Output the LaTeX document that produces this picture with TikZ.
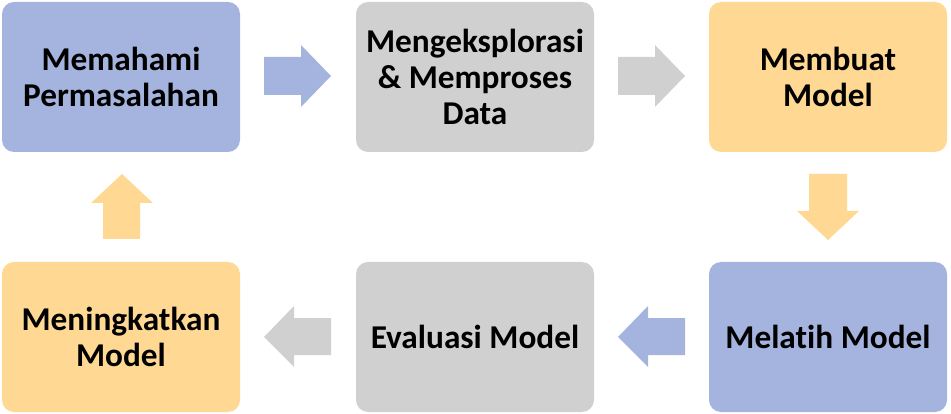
\documentclass[tikz,border=0pt]{standalone}
\usepackage{fontspec}
\setmainfont{Carlito}[Ligatures=NoCommon]
\definecolor{cblue}{HTML}{A4B4DF}
\definecolor{cgrey}{HTML}{D0D0D0}
\definecolor{cyel}{HTML}{FFD993}
\begin{document}
\begin{tikzpicture}[x=1pt,y=-1pt,
  stepbox/.style={rounded corners=12pt, minimum width=238pt, minimum height=150pt,
    inner sep=0pt, align=center, font=\fontsize{33.3}{36}\selectfont\bfseries, text=black},
  arrowfill/.style={fill=#1, draw=none}]
\useasboundingbox (0,0) rectangle (951,414);
\node[stepbox, fill=cblue] (b1) at (121,77) {Memahami\\Permasalahan};
\node[stepbox, fill=cgrey] (b2) at (475,77) {Mengeksplorasi\\\& Memproses\\Data};
\node[stepbox, fill=cyel] (b3) at (828,77) {Membuat\\Model};
\node[stepbox, fill=cblue] (b4) at (828,337) {Melatih Model};
\node[stepbox, fill=cgrey] (b5) at (475,337) {Evaluasi Model};
\node[stepbox, fill=cyel] (b6) at (121,337) {Meningkatkan\\Model};
% right arrow 1 (blue)
\fill[arrowfill=cblue] (264,57) -- (301,57) -- (301,45) -- (331,76) -- (301,107) -- (301,95) -- (264,95) -- cycle;
% right arrow 2 (grey)
\fill[arrowfill=cgrey] (618,57) -- (655,57) -- (655,45) -- (685,76) -- (655,107) -- (655,95) -- (618,95) -- cycle;
% down arrow (yellow)
\fill[arrowfill=cyel] (809,174) -- (847,174) -- (847,211) -- (859,211) -- (828,240) -- (797,211) -- (809,211) -- cycle;
% left arrow bottom (blue)
\fill[arrowfill=cblue] (685,318) -- (648,318) -- (648,306) -- (618,337) -- (648,367) -- (648,355) -- (685,355) -- cycle;
% left arrow (grey)
\fill[arrowfill=cgrey] (331,318) -- (294,318) -- (294,306) -- (264,337) -- (294,367) -- (294,355) -- (331,355) -- cycle;
% up arrow (yellow)
\fill[arrowfill=cyel] (103,239) -- (140,239) -- (140,203) -- (153,203) -- (122,174) -- (91,203) -- (103,203) -- cycle;
\end{tikzpicture}
\end{document}
